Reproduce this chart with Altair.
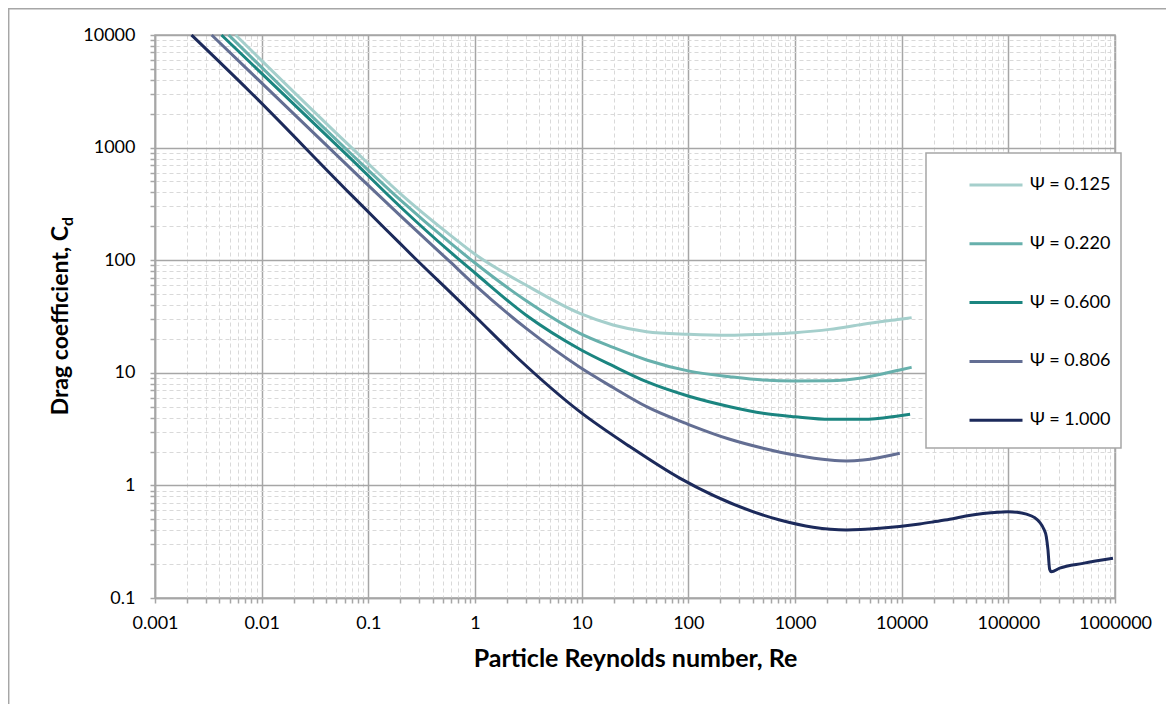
import altair as alt
import pandas as pd

series_names = ["Ψ = 0.125", "Ψ = 0.220", "Ψ = 0.600", "Ψ = 0.806", "Ψ = 1.000"]
series_colors = ["#a5cfcc", "#67b0ac", "#1b8580", "#636e93", "#1c2a5b"]

re_0125 = [0.0057, 0.0673, 0.198, 0.582, 1.0, 3.0, 9.62, 19.7, 40.6, 99.5, 245, 502, 995, 2120, 4350, 9600, 12400]
cd_0125 = [10000, 1030, 393, 168, 113, 60.2, 33.7, 26.6, 23.2, 22.0, 21.5, 22.0, 22.7, 24.3, 27.0, 29.9, 30.9]

re_0220 = [0.0049, 0.0673, 0.198, 0.582, 1.0, 3.0, 9.62, 19.7, 40.6, 99.5, 245, 502, 995, 2120, 4350, 9600, 12400]
cd_0220 = [10000, 900, 345, 143, 94.5, 43.8, 22.4, 16.8, 13.0, 10.4, 9.24, 8.63, 8.46, 8.5, 9.05, 10.6, 11.2]

re_0600 = [0.0042, 0.0673, 0.198, 0.582, 1.0, 3.0, 9.62, 19.7, 40.6, 99.5, 245, 502, 995, 2120, 4350, 9600, 12000]
cd_0600 = [10000, 810, 300, 119, 77, 32.6, 16.2, 11.5, 8.34, 6.22, 5.00, 4.37, 4.07, 3.86, 3.86, 4.16, 4.28]

re_0806 = [0.0034, 0.0673, 0.198, 0.582, 1.0, 3.0, 9.62, 19.7, 40.6, 99.5, 245, 502, 995, 2120, 3040, 4350, 9600]
cd_0806 = [10000, 660, 250, 97, 60, 24.9, 11.2, 7.4, 5.00, 3.49, 2.57, 2.14, 1.86, 1.68, 1.65, 1.68, 1.93]

re_1000 = [0.0022, 0.00777, 0.0673, 0.198, 0.2735, 0.582, 1.0, 2.54, 9.6, 28.3, 83, 720, 1480, 3040, 6240,
           14760, 20000, 28200, 40000, 58000, 80000, 99300, 120000, 148000, 175000, 197000, 215000, 227000,
           235000, 244000, 253000, 303000, 501000, 957000]
cd_1000 = [10000, 3136, 390, 141, 104, 52.3, 31.8, 13.4, 4.52, 2.21, 1.16, 0.493, 0.425, 0.402, 0.416,
           0.455, 0.475, 0.50, 0.535, 0.562, 0.578, 0.583, 0.578, 0.555, 0.52, 0.47, 0.41, 0.35,
           0.27, 0.18, 0.171, 0.184, 0.203, 0.225]

x_ticks = [m * 10.0 ** e for e in range(-3, 6) for m in range(1, 10)] + [1000000]
y_ticks = [m * 10.0 ** e for e in range(-1, 4) for m in range(1, 10)] + [10000]

frames = []
for name, res, cds in zip(series_names,
                          [re_0125, re_0220, re_0600, re_0806, re_1000],
                          [cd_0125, cd_0220, cd_0600, cd_0806, cd_1000]):
    frames.append(pd.DataFrame({"Re": res, "Cd": cds, "series": name}))
df = pd.concat(frames, ignore_index=True)

MAJOR = "abs(log(datum.value)/LN10 - round(log(datum.value)/LN10)) < 1e-6"
GRID_COLOR = {"condition": {"test": MAJOR, "value": "#a6a6a6"}, "value": "#d9d9d9"}
GRID_DASH = {"condition": {"test": MAJOR, "value": []}, "value": [4, 3]}
GRID_WIDTH = {"condition": {"test": MAJOR, "value": 1.5}, "value": 1}
LABEL_EXPR = MAJOR + " ? datum.value + '' : ''"

common_axis = dict(
    labelExpr=LABEL_EXPR, labelFont="Lato", labelFontSize=18, labelColor="black",
    labelOverlap=False, labelFlush=False, tickSize=5, tickColor="#a6a6a6", tickWidth=1.5,
    domainColor="#a6a6a6", domainWidth=1.5, gridColor=GRID_COLOR, gridDash=GRID_DASH,
    gridWidth=GRID_WIDTH,
)

lines = alt.Chart(df).mark_line(strokeWidth=3, interpolate="monotone").encode(
    x=alt.X("Re:Q", scale=alt.Scale(type="log", domain=[0.001, 1000000], nice=False),
            axis=alt.Axis(values=x_ticks, labelPadding=11,
                          title="Particle Reynolds number, Re", titleFont="Lato",
                          titleFontSize=25, titleFontWeight="bold", titleColor="black",
                          titlePadding=14, **common_axis)),
    y=alt.Y("Cd:Q", scale=alt.Scale(type="log", domain=[0.1, 10000], nice=False),
            axis=alt.Axis(values=y_ticks, labelPadding=15, title=None, **common_axis)),
    color=alt.Color("series:N", scale=alt.Scale(domain=series_names, range=series_colors),
                    legend=alt.Legend(title="x" * 120, titleOrient="bottom", titleFontSize=6,
                                      titlePadding=9, titleLimit=187, titleOpacity=0,
                                      orient="none", legendX=771, legendY=118,
                                      symbolType="stroke", symbolSize=2809, symbolStrokeWidth=3,
                                      labelFont="Lato", labelFontSize=18, labelColor="black",
                                      rowPadding=21.8, padding=4, strokeColor="#a6a6a6",
                                      fillColor="white", symbolOffset=38, labelOffset=6,
                                      labelLimit=300)),
)

one = pd.DataFrame({"a": [0]})
frame_left = alt.Chart(one).mark_rule(color="#a6a6a6", strokeWidth=1.5).encode(
    x=alt.value(-146.3), y=alt.value(-26.3), y2=alt.value(700))
frame_top = alt.Chart(one).mark_rule(color="#a6a6a6", strokeWidth=1.5).encode(
    x=alt.value(-147), x2=alt.value(1030), y=alt.value(-26.3))

ytitle_main = alt.Chart(one).mark_text(
    text="Drag coefficient, C", angle=270, align="right", baseline="alphabetic",
    font="Lato", fontSize=23, fontWeight="bold", color="black").encode(
    x=alt.value(-87), y=alt.value(191))
ytitle_sub = alt.Chart(one).mark_text(
    text="d", angle=270, align="left", baseline="alphabetic",
    font="Lato", fontSize=16, fontWeight="bold", color="black").encode(
    x=alt.value(-82), y=alt.value(191))

chart = alt.layer(lines, frame_left, frame_top, ytitle_main, ytitle_sub).properties(
    width=960, height=563,
    autosize=alt.AutoSizeParams(type="none"),
    padding={"left": 147, "top": 27, "right": 51, "bottom": 106},
).configure_view(stroke="#a6a6a6", strokeWidth=1.5).configure_legend(strokeWidth=1.5)

chart.save("out.html", embed_options={"renderer": "svg", "actions": False})
